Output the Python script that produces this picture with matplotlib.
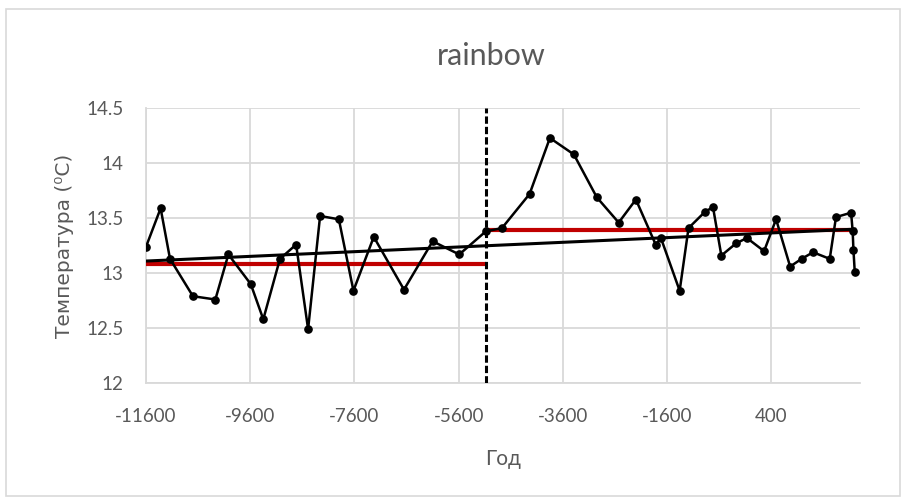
from matplotlib import pyplot as plt
from matplotlib.patches import Rectangle

"""
Holocene temperature series with the shift in mean temperature
"""

years = [-11600, -11320, -11140, -10700, -10270, -10020, -9590, -9350,
         -9030, -8720, -8490, -8260, -7900, -7620, -7230, -6650, -6100,
         -5590, -5080, -4770, -4240, -3850, -3390, -2950, -2530, -2200,
         -1820, -1720, -1360, -1190, -870, -720, -560, -280, -70, 260, 490,
         760, 980, 1200, 1520, 1640, 1930, 1960, 1975, 2000]
temps = [13.24, 13.59, 13.13, 12.79, 12.76, 13.17, 12.90, 12.58, 13.13,
         13.26, 12.49, 13.52, 13.49, 12.84, 13.33, 12.85, 13.29, 13.17,
         13.38, 13.41, 13.72, 14.23, 14.08, 13.69, 13.46, 13.67, 13.26,
         13.32, 12.84, 13.41, 13.56, 13.60, 13.16, 13.27, 13.32, 13.20,
         13.49, 13.06, 13.13, 13.19, 13.13, 13.51, 13.55, 13.38, 13.21,
         13.01]

# change point and the mean temperature on each side of it
break_year = -5080
mean_before = 13.085
mean_after = 13.394

# linear trend over the whole record
trend_years = [-11600, 2000]
trend_temps = [13.11, 13.40]

x_ticks = list(range(-11600, 401, 2000))
y_ticks = [12, 12.5, 13, 13.5, 14, 14.5]
y_tick_labels = ['12', '12.5', '13', '13.5', '14', '14.5']


def rainbow_plot():
    """
    plot temperature with means and trend
    """
    fig = plt.figure(figsize=(9.02, 4.98), dpi=100)
    ax = fig.add_axes([0.1619, 0.2309, 0.7915, 0.5516])

    grey = '#595959'
    grid = '#D9D9D9'

    ax.plot([trend_years[0], break_year], [mean_before, mean_before],
            color='#C00000', lw=3.0, solid_capstyle='butt', zorder=3)
    ax.plot([break_year, trend_years[1]], [mean_after, mean_after],
            color='#C00000', lw=3.0, solid_capstyle='butt', zorder=3)
    ax.plot(trend_years, trend_temps, color='black', lw=2.2, zorder=4)
    ax.plot(years, temps, color='black', lw=1.8, marker='o',
            markersize=5.2, zorder=5)
    ax.axvline(break_year, color='black', lw=2.2,
               linestyle=(0, (2.4, 1.0)), zorder=6)

    ax.set_xlim(-11600, 2100)
    ax.set_ylim(12, 14.5)
    ax.set_xticks(x_ticks)
    ax.set_xticklabels([str(t) for t in x_ticks])
    ax.set_yticks(y_ticks)
    ax.set_yticklabels(y_tick_labels)

    ax.grid(True, color=grid, lw=1.3, zorder=0)
    ax.set_axisbelow(True)
    for side in ['top', 'right']:
        ax.spines[side].set_visible(False)
    for side in ['left', 'bottom']:
        ax.spines[side].set_color(grid)
        ax.spines[side].set_linewidth(1.3)
    ax.tick_params(length=0, colors=grey, labelsize=13.5)
    ax.tick_params(axis='y', pad=16)
    ax.tick_params(axis='x', pad=18)
    for lab in ax.get_xticklabels() + ax.get_yticklabels():
        lab.set_family('Lato')

    ax.set_xlabel('Год', color=grey, fontsize=15, family='Lato', labelpad=17)
    ax.set_ylabel('Температура (⁰C)', color=grey, fontsize=14.5,
                  family='DejaVu Sans', labelpad=9)
    fig.text(0.545, 0.888, 'rainbow', ha='center', va='center',
             color=grey, fontsize=22, family='Lato')

    fig.patches.append(Rectangle((6 / 902, 2 / 498), 894 / 902, 487 / 498,
                                 transform=fig.transFigure, fill=False,
                                 edgecolor='#D9D9D9', lw=1.2))
    plt.savefig('out.png', dpi=100)


if __name__ == '__main__':
    rainbow_plot()
